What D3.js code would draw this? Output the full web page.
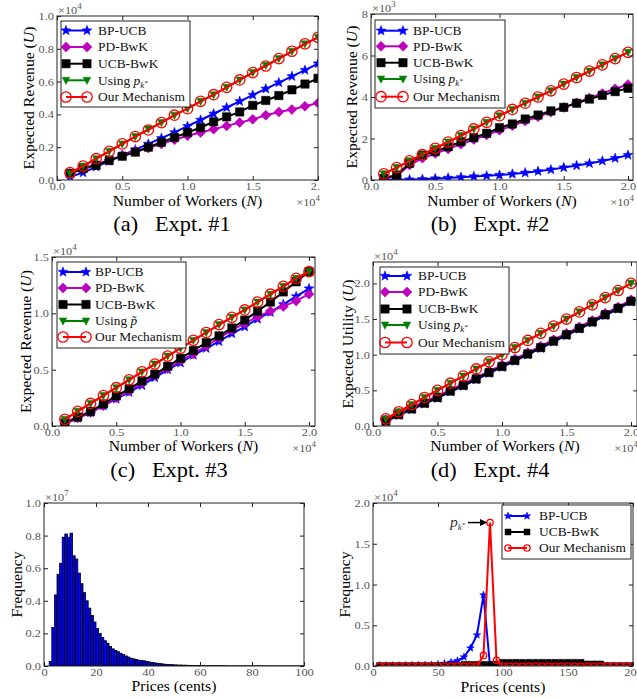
<!DOCTYPE html>
<html>
<head>
<meta charset="utf-8">
<script src="https://cdn.jsdelivr.net/npm/d3@7/dist/d3.min.js"></script>
<style>
  body { margin: 0; background: #fff; }
  svg { display: block; }
  text { font-family: "Liberation Serif", "Times New Roman", serif; }
</style>
</head>
<body>
<svg id="fig" width="637" height="698"></svg>
<script>
// ---------------- data ----------------
const workers = [1000,2000,3000,4000,5000,6000,7000,8000,9000,10000,11000,12000,13000,14000,15000,16000,17000,18000,19000,20000];

// Expt #1 (x1e4)
const e1_bpucb  = [0.02,0.045,0.08,0.115,0.15,0.185,0.22,0.255,0.29,0.328,0.366,0.404,0.442,0.48,0.518,0.556,0.594,0.632,0.67,0.71];
const e1_pdbwk  = [0.04,0.07,0.095,0.12,0.15,0.175,0.195,0.22,0.245,0.27,0.29,0.31,0.33,0.35,0.37,0.395,0.415,0.43,0.45,0.47];
const e1_ucbbwk = [0.04,0.07,0.09,0.12,0.145,0.17,0.2,0.23,0.26,0.29,0.32,0.355,0.385,0.415,0.455,0.485,0.515,0.55,0.585,0.62];
const e1_using  = [0.04,0.085,0.13,0.175,0.22,0.265,0.31,0.35,0.395,0.435,0.48,0.52,0.565,0.61,0.655,0.7,0.74,0.785,0.83,0.87];
const e1_ours   = [0.045,0.085,0.13,0.175,0.22,0.265,0.305,0.35,0.395,0.435,0.48,0.52,0.565,0.61,0.655,0.695,0.74,0.785,0.83,0.87];

// Expt #2 (x1e3)
const e2_bpucb  = [0.0,0.01,0.02,0.04,0.07,0.1,0.13,0.17,0.2,0.24,0.29,0.35,0.42,0.5,0.6,0.7,0.8,0.92,1.05,1.2];
const e2_pdbwk  = [0.05,0.2,0.72,1.05,1.28,1.5,1.72,1.95,2.17,2.4,2.62,2.84,3.05,3.27,3.5,3.72,3.95,4.17,4.4,4.6];
const e2_ucbbwk = [0.08,0.24,0.8,1.2,1.37,1.6,1.85,2.04,2.25,2.52,2.7,2.94,3.13,3.33,3.5,3.7,3.9,4.08,4.26,4.42];
const e2_using  = [0.3,0.6,0.92,1.22,1.53,1.83,2.14,2.46,2.78,3.1,3.4,3.7,4.0,4.3,4.62,4.94,5.25,5.55,5.85,6.15];
const e2_ours   = [0.3,0.6,0.92,1.22,1.53,1.83,2.14,2.46,2.78,3.1,3.4,3.7,4.0,4.3,4.62,4.94,5.25,5.55,5.85,6.15];

// Expt #3 (x1e4)
const e3_bpucb  = [0.02,0.07,0.12,0.18,0.24,0.3,0.36,0.43,0.5,0.56,0.63,0.69,0.75,0.82,0.88,0.95,1.01,1.08,1.15,1.22];
const e3_pdbwk  = [0.02,0.07,0.12,0.18,0.25,0.31,0.38,0.45,0.51,0.58,0.64,0.71,0.78,0.85,0.91,0.97,1.02,1.06,1.11,1.17];
const e3_ucbbwk = [0.027,0.08,0.13,0.196,0.267,0.33,0.4,0.46,0.53,0.6,0.67,0.74,0.8,0.87,0.94,1.02,1.1,1.19,1.28,1.37];
const e3_using  = [0.06,0.13,0.2,0.27,0.34,0.41,0.48,0.55,0.62,0.69,0.76,0.83,0.9,0.965,1.03,1.1,1.17,1.24,1.31,1.37];
const e3_ours   = [0.06,0.13,0.2,0.27,0.34,0.41,0.48,0.55,0.62,0.69,0.76,0.83,0.9,0.965,1.03,1.1,1.17,1.24,1.31,1.37];

// Expt #4 (x1e4)
const e4_bpucb  = [0.06,0.15,0.23,0.31,0.39,0.48,0.56,0.65,0.74,0.825,0.91,1.0,1.09,1.18,1.27,1.36,1.45,1.55,1.64,1.74];
const e4_pdbwk  = [0.09,0.18,0.26,0.34,0.42,0.51,0.59,0.68,0.77,0.855,0.94,1.03,1.12,1.21,1.3,1.39,1.48,1.58,1.67,1.77];
const e4_ucbbwk = [0.07,0.16,0.24,0.32,0.4,0.49,0.57,0.66,0.75,0.835,0.92,1.01,1.1,1.19,1.28,1.37,1.46,1.56,1.65,1.75];
const e4_using  = [0.1,0.2,0.3,0.4,0.5,0.6,0.7,0.8,0.9,1.0,1.1,1.2,1.3,1.4,1.5,1.6,1.7,1.8,1.9,2.0];
const e4_ours   = [0.1,0.2,0.3,0.4,0.5,0.6,0.7,0.8,0.9,1.0,1.1,1.2,1.3,1.4,1.5,1.6,1.7,1.8,1.9,2.0];

// price histogram, 1-cent bins starting at 0 (x1e7)
const histFreq = [
  0,0,0.027,0.236,0.436,0.563,0.63,0.79,0.81,0.79,
  0.815,0.676,0.656,0.57,0.505,0.45,0.4,0.355,0.31,0.27,
  0.23,0.2,0.175,0.155,0.14,0.12,0.105,0.095,0.088,0.078,
  0.07,0.062,0.055,0.048,0.044,0.04,0.036,0.034,0.032,0.028,
  0.025,0.022,0.02,0.017,0.015,0.013,0.011,0.01,0.009,0.008,
  0.007,0.006,0.006,0.005,0.005,0.004,0.004,0.003,0.003,0.003,
  0.002,0.002,0.002,0.002,0.002,0.002,0.002,0.002,0.002,0.002,
  0.001,0.001,0.001,0.001,0.001,0.001,0.001,0.001,0.001,0.001,
  0.001,0.001,0.001,0.001,0.001,0.0005,0.0005,0.0005,0.0005,0.0005,
  0.0005,0.0005,0.0005,0.0005,0.0005,0.0005,0.0005,0.0005,0.0005,0.0005
];

// price frequency per algorithm (x1e4)
const prices = [5,10,15,20,25,30,35,40,45,50,55,60,65,70,75,80,85,90,95,100,
                105,110,115,120,125,130,135,140,145,150,155,160,165,170,175,180,185,190,195,200];
const f_bpucb  = [0.005,0.005,0.005,0.005,0.007,0.008,0.01,0.012,0.015,0.02,0.03,0.045,0.065,0.11,0.22,0.38,0.87,0,0,0,
                  0,0,0,0,0,0,0,0,0,0,0,0,0,0,0,0,0,0,0,0];
const f_ucbbwk = [0.005,0.005,0.005,0.005,0.005,0.005,0.005,0.005,0.005,0.005,0.005,0.005,0.005,0.02,0.02,0.02,0.02,0.02,0.02,0.045,
                  0.045,0.045,0.045,0.045,0.045,0.045,0.045,0.045,0.045,0.045,0.045,0.045,0.025,0.025,0.025,0.005,0.005,0.005,0.005,0.005];
const f_ours   = [0,0,0,0,0,0,0,0,0,0,0,0,0,0,0,0,0.13,1.76,0.07,0,
                  0,0,0,0,0,0,0,0,0,0,0,0,0,0,0,0,0,0,0,0];

// ---------------- drawing ----------------
const SX = 1.12;   // the figure's text is a bit wider than it is tall
const svg = d3.select('#fig');
const defs = svg.append('defs');

const lblBP = [{t:'BP-UCB'}];
const lblPD = [{t:'PD-BwK'}];
const lblUCB = [{t:'UCB-BwK'}];
const lblUsingK = [{t:'Using '},{t:'p',i:1},{t:'k',i:1,fs:8,dy:3},{t:'*',fs:7,dy:-3}];
const lblUsingT = [{t:'Using '},{t:'p\u0303',i:1}];
const lblOurs = [{t:'Our Mechanism'}];

function stretch(t, x, y, rot) {
  t.attr('transform', 'translate(' + x + ',' + y + ')' + (rot ? ' rotate(' + rot + ')' : '') + ' scale(' + SX + ',1)');
}

function rich(t, parts) {
  parts.forEach(function (p) {
    let s = t.append('tspan').text(p.t);
    if (p.i) s.attr('font-style', 'italic');
    if (p.fs) s.attr('font-size', p.fs);
    if (p.dy) s.attr('dy', p.dy);
  });
  return t;
}

function markerPath(type, s) {
  if (type === 'star') {
    let pts = [];
    for (let k = 0; k < 10; k++) {
      let a = -Math.PI / 2 + k * Math.PI / 5;
      let r = k % 2 === 0 ? s : s * 0.42;
      pts.push(r * Math.cos(a).toFixed(3) + ',' + r * Math.sin(a).toFixed(3));
    }
    return 'M' + pts.join('L') + 'Z';
  }
  if (type === 'diamond') return 'M0,' + (-s) + 'L' + s + ',0L0,' + s + 'L' + (-s) + ',0Z';
  if (type === 'square') return 'M' + (-s) + ',' + (-s) + 'h' + 2 * s + 'v' + 2 * s + 'h' + (-2 * s) + 'Z';
  if (type === 'tri') return 'M' + (-s) + ',' + (-s * 0.8) + 'L' + s + ',' + (-s * 0.8) + 'L0,' + (s * 1.1) + 'Z';
}

function drawMarker(g, type, cx, cy, s, color) {
  if (type === 'circle') {
    g.append('circle').attr('cx', cx).attr('cy', cy).attr('r', s)
      .attr('fill', 'none').attr('stroke', color).attr('stroke-width', 1.3);
  } else {
    g.append('path').attr('d', markerPath(type, s))
      .attr('transform', 'translate(' + cx + ',' + cy + ')')
      .attr('fill', color).attr('stroke', color).attr('stroke-width', 0.5);
  }
}

const bigMk = {star:5.2, diamond:5, square:4.2, tri:3.8, circle:5.2};
const smallMk = {star:4, diamond:3.5, square:3, tri:3, circle:3.2};

function lineSeries(xs, a, b, c, d, e) {
  return [
    {label: lblBP, vals: a, color: '#0000ff', mk: 'star'},
    {label: lblPD, vals: b, color: '#bf00bf', mk: 'diamond'},
    {label: lblUCB, vals: c, color: '#000000', mk: 'square'},
    {label: d.lbl, vals: d.vals, color: '#008000', mk: 'tri'},
    {label: lblOurs, vals: e, color: '#ff0000', mk: 'circle'}
  ];
}

const fmt1 = d3.format('.1f');
const xFmtW = function (d) { return fmt1(d / 10000); };

let panels = [
  {key:'a', clipW:320, x0:57, xr:318, fr:318, top:16, bot:180, xmax:20000, ymax:1.0,
   xs: workers, xTicks:[0,5000,10000,15000,20000], xFmt: xFmtW, yTicks:[0,0.2,0.4,0.6,0.8,1.0], yFmt: fmt1,
   yExp:'4', xExp:'4', xExpX:320, xExpY:206, ylab:'Expected Revenue', ylabVar:'U', ylabX:34, xlab:'Number of Workers', xlabVar:'N', xlabY:206,
   series: lineSeries(workers, e1_bpucb, e1_pdbwk, e1_ucbbwk, {lbl: lblUsingK, vals: e1_using}, e1_ours), mks: bigMk,
   legend:{x:61, y:21, w:129, h:86, rows:[30.5,47,63.7,80.3,97], lx0:66, lx1:87, tx:98},
   cap:'(a)', capT:'Expt. #1', capX:172, capY:231},
  {key:'b', clipW:null, x0:371, xr:628, fr:633, top:14, bot:180, xmax:20000, ymax:8,
   xs: workers, xTicks:[0,5000,10000,15000,20000], xFmt: xFmtW, yTicks:[0,2,4,6,8], yFmt: d3.format('d'),
   yExp:'3', xExp:'4', xExpX:634, xExpY:206, ylab:'Expected Revenue', ylabVar:'U', ylabX:357, xlab:'Number of Workers', xlabVar:'N', xlabY:206,
   series: lineSeries(workers, e2_bpucb, e2_pdbwk, e2_ucbbwk, {lbl: lblUsingK, vals: e2_using}, e2_ours), mks: bigMk,
   legend:{x:375, y:20, w:130, h:88, rows:[30.7,46.3,62.7,79,96.7], lx0:381, lx1:403, tx:413},
   cap:'(b)', capT:'Expt. #2', capX:490, capY:231},
  {key:'c', clipW:320, x0:52, xr:309, fr:315, top:257, bot:426, xmax:20000, ymax:1.5,
   xs: workers, xTicks:[0,5000,10000,15000,20000], xFmt: xFmtW, yTicks:[0,0.5,1.0,1.5], yFmt: fmt1,
   yExp:'4', xExp:'4', xExpX:316, xExpY:452, ylab:'Expected Revenue', ylabVar:'U', ylabX:31, xlab:'Number of Workers', xlabVar:'N', xlabY:451,
   series: lineSeries(workers, e3_bpucb, e3_pdbwk, e3_ucbbwk, {lbl: lblUsingT, vals: e3_using}, e3_ours), mks: bigMk,
   legend:{x:57, y:262, w:129, h:86, rows:[272,288,304.5,321,337], lx0:63, lx1:86, tx:95},
   cap:'(c)', capT:'Expt. #3', capX:169, capY:477},
  {key:'d', clipW:null, x0:373, xr:631, fr:637, top:262, bot:426, xmax:20000, ymax:2.3,
   xs: workers, xTicks:[0,5000,10000,15000,20000], xFmt: xFmtW, yTicks:[0,0.5,1.0,1.5,2.0], yFmt: fmt1,
   yExp:'4', xExp:'4', xExpX:638, xExpY:452, ylab:'Expected Utility', ylabVar:'U', ylabX:353, xlab:'Number of Workers', xlabVar:'N', xlabY:451,
   series: lineSeries(workers, e4_bpucb, e4_pdbwk, e4_ucbbwk, {lbl: lblUsingK, vals: e4_using}, e4_ours), mks: bigMk,
   legend:{x:380, y:267, w:129, h:87, rows:[276,292,309,325,342.5], lx0:385, lx1:407, tx:418},
   cap:'(d)', capT:'Expt. #4', capX:490, capY:477},
  {key:'e', clipW:320, x0:44, xr:304, fr:304, top:503, bot:666, xmax:100, ymax:1.0,
   xTicks:[0,20,40,60,80,100], xFmt: d3.format('d'), yTicks:[0,0.2,0.4,0.6,0.8,1.0], yFmt: fmt1,
   yExp:'7', xExp:null, ylab:'Frequency', ylabVar:null, ylabX:22, xlab:'Prices (cents)', xlabVar:null, xlabY:691,
   hist: histFreq},
  {key:'f', clipW:null, x0:373, xr:633, fr:633, top:503, bot:666, xmax:200, ymax:2.0,
   xs: prices, xTicks:[0,50,100,150,200], xFmt: d3.format('d'), yTicks:[0,0.5,1.0,1.5,2.0], yFmt: fmt1,
   yExp:'4', xExp:null, ylab:'Frequency', ylabVar:null, ylabX:350, xlab:'Prices (cents)', xlabVar:null, xlabY:692,
   series: [
     {label: lblBP, vals: f_bpucb, color: '#0000ff', mk: 'star'},
     {label: lblUCB, vals: f_ucbbwk, color: '#000000', mk: 'square'},
     {label: lblOurs, vals: f_ours, color: '#ff0000', mk: 'circle'}
   ], mks: smallMk,
   legend:{x:502, y:505, w:129, h:54, rows:[516,532,548], lx0:508, lx1:527, tx:539}}
];

function styleAxis(a) {
  a.select('.domain').remove();
  a.attr('font-family', null).attr('font-size', null);
  a.selectAll('line').attr('stroke', '#222');
  a.selectAll('text').attr('fill', '#555').attr('font-size', 11).each(function () {
    let t = d3.select(this);
    let x = +t.attr('x') || 0, y = +t.attr('y') || 0;
    t.attr('x', null).attr('y', null);
    stretch(t, x, y);
  });
}

function expText(g, x, y, e, anchor) {
  let t = g.append('text').attr('font-size', 11).attr('fill', '#555').attr('text-anchor', anchor);
  rich(t, [{t:'\u00d710'}, {t:e, fs:8, dy:-5}]);
  stretch(t, x, y);
}

function drawPanel(p) {
  let root = svg.append('g').attr('class', 'panel-' + p.key);
  if (p.clipW) {
    defs.append('clipPath').attr('id', 'reg-' + p.key).append('rect')
      .attr('x', 0).attr('y', 0).attr('width', p.clipW).attr('height', 698);
    root.attr('clip-path', 'url(#reg-' + p.key + ')');
  }
  let x = d3.scaleLinear().domain([0, p.xmax]).range([p.x0, p.xr]);
  let y = d3.scaleLinear().domain([0, p.ymax]).range([p.bot, p.top]);

  defs.append('clipPath').attr('id', 'plot-' + p.key).append('rect')
    .attr('x', p.x0).attr('y', p.top).attr('width', p.fr - p.x0).attr('height', p.bot - p.top);
  let plot = root.append('g').attr('clip-path', 'url(#plot-' + p.key + ')');

  if (p.hist) {
    plot.selectAll('rect.bar').data(p.hist).enter().append('rect')
      .attr('class', 'bar')
      .attr('x', function (d, i) { return x(i); })
      .attr('y', function (d) { return y(d); })
      .attr('width', function (d, i) { return x(i + 1) - x(i); })
      .attr('height', function (d) { return p.bot - y(d); })
      .attr('fill', '#0000ff').attr('stroke', '#000').attr('stroke-width', 0.8);
  }
  if (p.series) {
    let line = d3.line().x(function (d) { return x(d[0]); }).y(function (d) { return y(d[1]); });
    p.series.forEach(function (s) {
      let pts = p.xs.map(function (v, i) { return [v, s.vals[i]]; });
      plot.append('path').datum(pts).attr('d', line)
        .attr('fill', 'none').attr('stroke', s.color).attr('stroke-width', 2);
      let mg = plot.append('g');
      pts.forEach(function (q) { drawMarker(mg, s.mk, x(q[0]), y(q[1]), p.mks[s.mk], s.color); });
    });
  }

  // frame and inward ticks on all four sides
  root.append('rect').attr('x', p.x0).attr('y', p.top).attr('width', p.fr - p.x0).attr('height', p.bot - p.top)
    .attr('fill', 'none').attr('stroke', '#222').attr('stroke-width', 1);
  root.append('g').attr('transform', 'translate(0,' + p.bot + ')')
    .call(d3.axisBottom(x).tickValues(p.xTicks).tickFormat(p.xFmt).tickSizeInner(-4).tickSizeOuter(0).tickPadding(2.5))
    .call(styleAxis);
  root.append('g').attr('transform', 'translate(0,' + p.top + ')')
    .call(d3.axisTop(x).tickValues(p.xTicks).tickFormat('').tickSizeInner(-4).tickSizeOuter(0))
    .call(styleAxis);
  root.append('g').attr('transform', 'translate(' + p.x0 + ',0)')
    .call(d3.axisLeft(y).tickValues(p.yTicks).tickFormat(p.yFmt).tickSizeInner(-4).tickSizeOuter(0).tickPadding(3))
    .call(styleAxis);
  root.append('g').attr('transform', 'translate(' + p.fr + ',0)')
    .call(d3.axisRight(y).tickValues(p.yTicks).tickFormat('').tickSizeInner(-4).tickSizeOuter(0))
    .call(styleAxis);

  expText(root, p.x0 + 1, p.top - 2, p.yExp, 'start');
  if (p.xExp) expText(root, p.xExpX, p.xExpY, p.xExp, 'end');

  // axis labels
  let xl = root.append('text').attr('font-size', 14).attr('text-anchor', 'middle').attr('fill', '#000');
  rich(xl, p.xlabVar ? [{t:p.xlab + ' ('}, {t:p.xlabVar, i:1}, {t:')'}] : [{t:p.xlab}]);
  stretch(xl, (p.x0 + p.fr) / 2, p.xlabY);
  let yl = root.append('text').attr('font-size', 14).attr('text-anchor', 'middle').attr('fill', '#000');
  rich(yl, p.ylabVar ? [{t:p.ylab + ' ('}, {t:p.ylabVar, i:1}, {t:')'}] : [{t:p.ylab}]);
  stretch(yl, p.ylabX, (p.top + p.bot) / 2, -90);

  // legend
  if (p.legend) {
    let L = p.legend;
    let lg = root.append('g');
    lg.append('rect').attr('x', L.x).attr('y', L.y).attr('width', L.w).attr('height', L.h)
      .attr('fill', '#fff').attr('stroke', '#222').attr('stroke-width', 1);
    p.series.forEach(function (s, i) {
      let ry = L.rows[i];
      lg.append('line').attr('x1', L.lx0).attr('x2', L.lx1).attr('y1', ry).attr('y2', ry)
        .attr('stroke', s.color).attr('stroke-width', 2);
      drawMarker(lg, s.mk, L.lx0, ry, p.mks[s.mk], s.color);
      drawMarker(lg, s.mk, L.lx1, ry, p.mks[s.mk], s.color);
      let t = lg.append('text').attr('font-size', 12).attr('fill', '#111').attr('dy', '0.35em');
      rich(t, s.label);
      stretch(t, L.tx, ry);
    });
  }

  if (p.key === 'f') {
    // annotation pointing at the peak of our mechanism
    let px = x(prices[17]), py = y(f_ours[17]);
    let at = root.append('text').attr('font-size', 14).attr('fill', '#333');
    rich(at, [{t:'p', i:1}, {t:'k', i:1, fs:8, dy:3}, {t:'*', fs:7, dy:-3}]);
    stretch(at, 450, py + 4);
    root.append('line').attr('x1', 468).attr('x2', px - 9).attr('y1', py).attr('y2', py)
      .attr('stroke', '#000').attr('stroke-width', 1.5);
    root.append('path').attr('d', 'M' + (px - 10) + ',' + (py - 3.5) + 'L' + (px - 2.5) + ',' + py + 'L' + (px - 10) + ',' + (py + 3.5) + 'Z')
      .attr('fill', '#000');
  }

  if (p.cap) {
    let c = root.append('text').attr('font-size', 20).attr('text-anchor', 'middle').attr('fill', '#000')
      .text(p.cap + '\u2002 ' + p.capT);
    stretch(c, p.capX, p.capY);
  }
}

panels.forEach(drawPanel);
</script>
</body>
</html>
